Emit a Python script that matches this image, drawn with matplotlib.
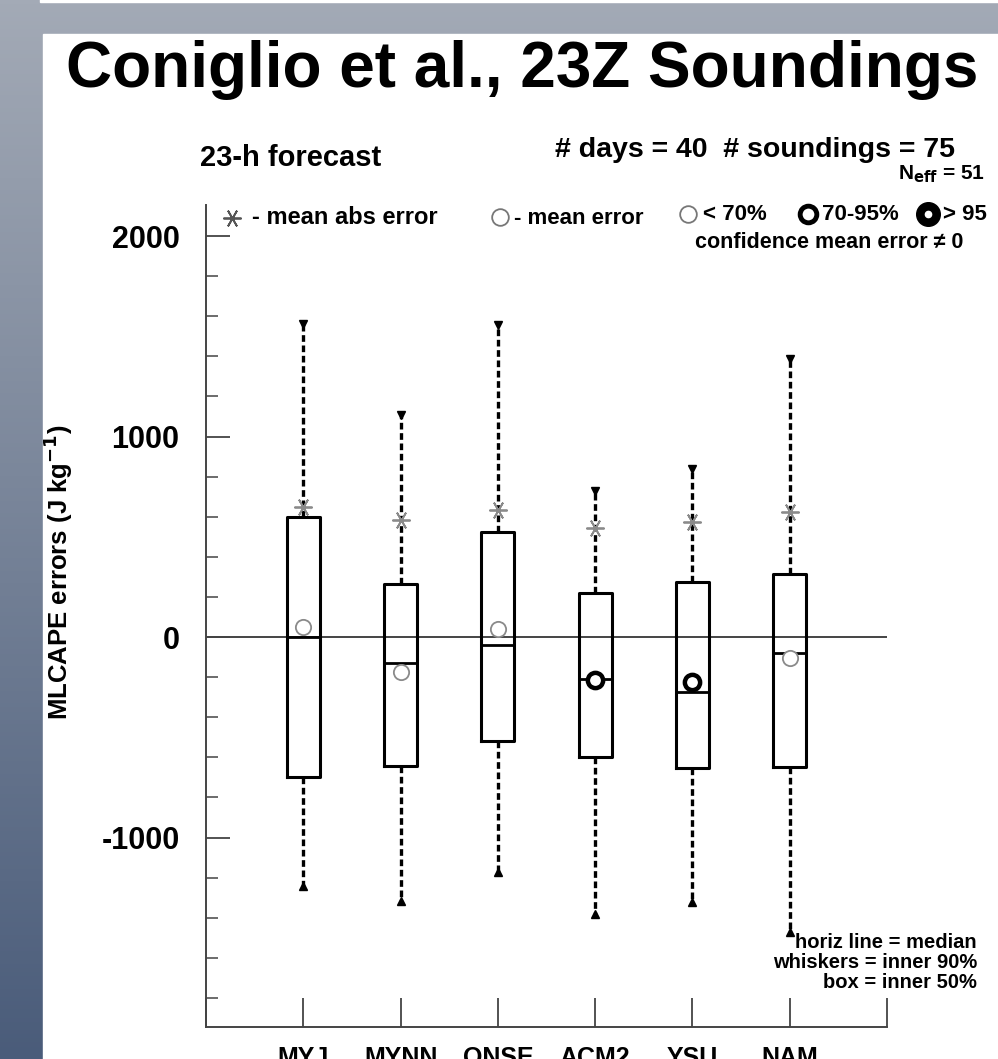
import numpy as np
import matplotlib
matplotlib.use("Agg")
import matplotlib.pyplot as plt
from matplotlib.patches import Rectangle

plt.rcParams["font.family"] = ["Liberation Sans", "DejaVu Sans"]
plt.rcParams["font.weight"] = "bold"

# Model error statistics (J/kg)
models = ["MYJ", "MYNN", "QNSE", "ACM2", "YSU", "NAM"]
whisker_hi = [1560, 1110, 1555, 730, 840, 1385]
box_hi = [597, 264, 522, 219, 274, 313]
medians = [0, -130, -40, -210, -274, -80]
box_lo = [-700, -642, -517, -597, -652, -647]
whisker_lo = [-1244, -1318, -1174, -1383, -1323, -1473]
mean_err = [50, -175, 40, -214, -224, -105]
mean_abs_err = [650, 582, 632, 542, 572, 622]
confidence = ["<70", "<70", "<70", "70-95", "70-95", "<70"]

W, H = 998, 1059
fig = plt.figure(figsize=(W / 100, H / 100), dpi=100)


def fx(px):
    return px / W


def fy(py):
    return 1 - py / H


# slide background: blue-gray gradient with a white panel
bg = fig.add_axes([0, 0, 1, 1], zorder=-10)
top_c = np.array([163, 170, 182]) / 255
bot_c = np.array([74, 92, 122]) / 255
t = np.linspace(0, 1, 256)[:, None]
grad = (top_c[None, :] * (1 - t) + bot_c[None, :] * t)[:, None, :]
bg.imshow(grad, extent=[0, 1, 0, 1], aspect="auto", origin="upper")
bg.add_patch(Rectangle((fx(43), 0), 1, fy(34), color="white"))
bg.add_patch(Rectangle((fx(40), fy(2)), 1, 1, color="white"))
bg.set_xlim(0, 1)
bg.set_ylim(0, 1)
bg.axis("off")

fig.text(fx(522), fy(70), "Coniglio et al., 23Z Soundings", ha="center", va="center",
         fontsize=46, fontweight="bold")

ax_l, ax_r, ax_b, ax_t = 206, 887, 1027, 205
ax = fig.add_axes([fx(ax_l), fy(ax_b), fx(ax_r) - fx(ax_l), fy(ax_t) - fy(ax_b)])
x = np.arange(1, len(models) + 1)

stats = []
for i in range(len(models)):
    stats.append({"med": medians[i], "q1": box_lo[i], "q3": box_hi[i],
                  "whislo": whisker_lo[i], "whishi": whisker_hi[i], "fliers": []})

ax.bxp(stats, positions=x, widths=0.34, showcaps=False, showfliers=False,
       boxprops=dict(color="black", lw=2.2),
       whiskerprops=dict(color="black", lw=2.4, linestyle=(0, (2.0, 1.1))),
       medianprops=dict(color="black", lw=2.0))

# whisker end markers
ax.plot(x, whisker_hi, "v", color="black", ms=6, zorder=4)
ax.plot(x, whisker_lo, "^", color="black", ms=6, zorder=4)

ax.axhline(0, color="#444444", lw=1.4, zorder=1)

# mean absolute error
ax.plot(x, mean_abs_err, linestyle="none", marker=(6, 2, 90), ms=13,
        mec="#8a8a8a", mew=1.3, zorder=5)

# mean error, styled by confidence level
for xi, m, c in zip(x, mean_err, confidence):
    if c == "<70":
        ax.plot(xi, m, "o", ms=11, mfc="white", mec="#8a8a8a", mew=1.3, zorder=6)
    else:
        ax.plot(xi, m, "o", ms=11, mfc="white", mec="black", mew=3.2, zorder=6)

ax.set_xlim(0, 7)
ax.set_ylim(-1945, 2155)
ax.set_xticks(np.arange(0, 8))
ax.set_xticklabels([""] + models + [""])
ax.set_yticks([-1000, 0, 1000, 2000])
ax.set_yticklabels(["-1000", "0", "1000", "2000"])
ax.set_yticks(np.arange(-1800, 2001, 200), minor=True)
ax.tick_params(axis="x", direction="in", length=21, width=1.3, color="#444444",
               labelsize=18, pad=14)
ax.tick_params(axis="y", which="major", direction="in", length=17, width=1.3,
               color="#444444", labelsize=22, pad=19)
ax.tick_params(axis="y", which="minor", direction="in", length=8.5, width=1.1,
               color="#444444")
for lab in ax.get_xticklabels() + ax.get_yticklabels():
    lab.set_fontweight("bold")
for s in ["top", "right"]:
    ax.spines[s].set_visible(False)
for s in ["left", "bottom"]:
    ax.spines[s].set_color("#444444")
    ax.spines[s].set_linewidth(1.4)

ax.set_ylabel("MLCAPE errors (J kg$^{\\mathbf{-1}}$)", fontsize=18.5, fontweight="bold")
ax_w = ax_r - ax_l
ax_h = ax_b - ax_t
ax.yaxis.set_label_coords((75 - ax_l) / ax_w, (ax_b - 572) / ax_h)

# header texts
fig.text(fx(200), fy(158), "23-h forecast", ha="left", va="center", fontsize=21)
fig.text(fx(955), fy(150), "# days = 40  # soundings = 75", ha="right", va="center",
         fontsize=20.5)
fig.text(fx(985), fy(174), "N$_{\\mathbf{eff}}$ = 51", ha="right", va="center", fontsize=15)

# legend row
ax.plot([fx(232)], [fy(218)], linestyle="none", marker=(6, 2, 90), ms=13, mec="#555555",
        mew=1.3, transform=fig.transFigure, clip_on=False)
fig.text(fx(252), fy(218), "- mean abs error", ha="left", va="center", fontsize=17)
ax.plot([fx(500)], [fy(217)], "o", ms=12, mfc="white", mec="#777777", mew=1.3,
        transform=fig.transFigure, clip_on=False)
fig.text(fx(514), fy(218), "- mean error", ha="left", va="center", fontsize=16)
ax.plot([fx(688)], [fy(214)], "o", ms=12, mfc="white", mec="#777777", mew=1.3,
        transform=fig.transFigure, clip_on=False)
fig.text(fx(703), fy(214), "< 70%", ha="left", va="center", fontsize=16)
ax.plot([fx(808)], [fy(214)], "o", ms=12, mfc="white", mec="black", mew=3.5,
        transform=fig.transFigure, clip_on=False)
fig.text(fx(822), fy(214), "70-95%", ha="left", va="center", fontsize=16)
ax.plot([fx(928)], [fy(214)], "o", ms=17, mfc="black", mec="black",
        transform=fig.transFigure, clip_on=False)
ax.plot([fx(928)], [fy(214)], "o", ms=4.5, mfc="white", mec="white",
        transform=fig.transFigure, clip_on=False)
fig.text(fx(987), fy(214), "> 95", ha="right", va="center", fontsize=16)
fig.text(fx(963), fy(242), "confidence mean error \u2260 0", ha="right", va="center",
         fontsize=15.5)

# box plot key
key_lines = ["horiz line = median", "whiskers = inner 90%", "box = inner 50%"]
for line, py in zip(key_lines, [942, 962, 982]):
    fig.text(fx(977), fy(py), line, ha="right", va="center", fontsize=14.5)

fig.savefig("out.png", dpi=100)
